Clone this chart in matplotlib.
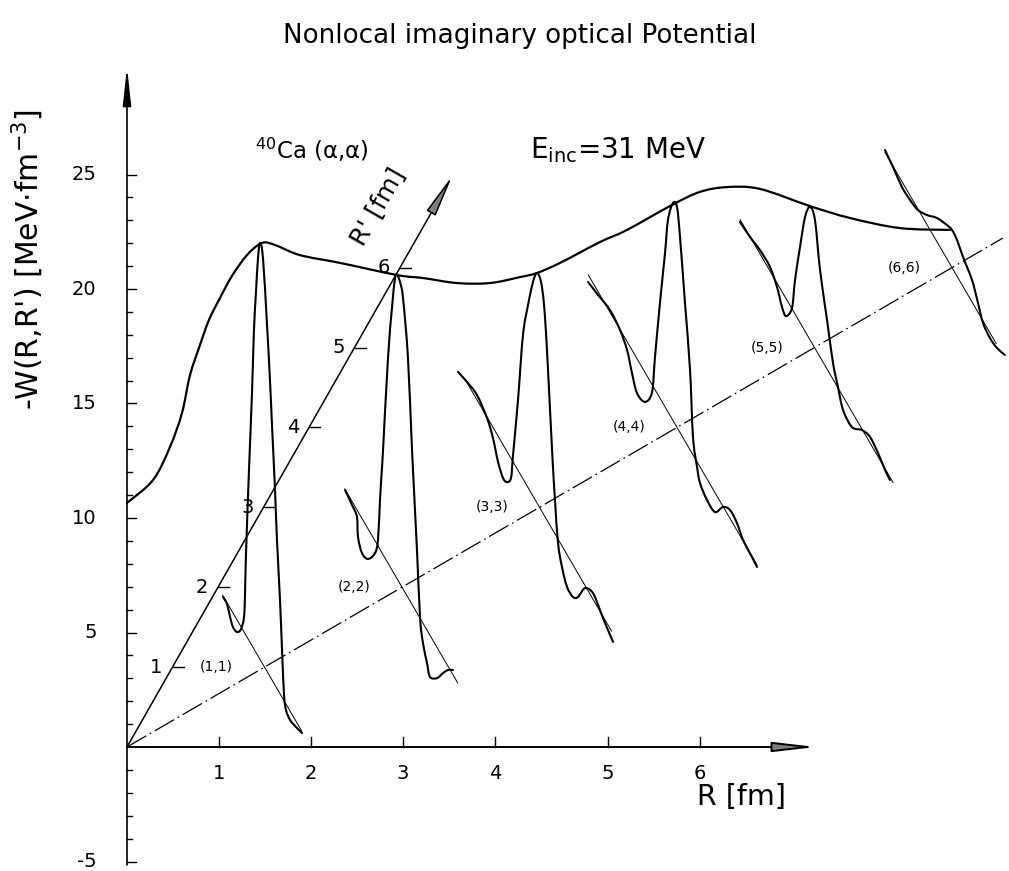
import matplotlib.pyplot as plt
import numpy as np
from matplotlib.path import Path
from matplotlib.patches import PathPatch

plt.rcParams['font.family'] = ['DejaVu Sans']
plt.rcParams['lines.scale_dashes'] = False

# diagonal envelope W(R,R): projected R [fm], W [MeV fm^-3]
env_x = [0.0, 0.283, 0.467, 0.598, 0.685, 0.793, 0.891, 1.011, 1.141, 1.304, 1.467,
         1.609, 1.880, 2.315, 2.935, 3.217, 3.587, 3.946, 4.272, 4.457, 4.707, 5.141,
         5.435, 5.924, 6.228, 6.522, 6.880, 7.424, 7.859, 8.402, 8.946]
env_y = [10.66, 11.66, 13.10, 14.59, 16.24, 17.55, 18.65, 19.61, 20.57, 21.48, 22.01,
         21.92, 21.48, 21.14, 20.61, 20.48, 20.26, 20.26, 20.52, 20.70, 21.14, 22.05,
         22.58, 23.67, 24.24, 24.45, 24.37, 23.62, 23.10, 22.66, 22.58]

# cuts through (n,n)
cut1_x = [1.043, 1.087, 1.120, 1.152, 1.196, 1.239, 1.272, 1.283, 1.293, 1.326, 1.359,
          1.380, 1.402, 1.424, 1.446, 1.478, 1.522, 1.554, 1.576, 1.609, 1.630, 1.663,
          1.685, 1.707, 1.728, 1.772, 1.826, 1.902]
cut1_y = [6.55, 6.24, 5.68, 5.24, 5.02, 5.15, 5.68, 6.72, 8.38, 12.10, 15.50, 18.21,
          19.87, 21.35, 22.01, 21.35, 18.43, 16.03, 14.06, 11.22, 9.04, 6.42, 4.24,
          2.27, 1.62, 1.18, 0.92, 0.61]

cut2_x = [2.370, 2.457, 2.500, 2.511, 2.554, 2.620, 2.696, 2.728, 2.750, 2.772, 2.783,
          2.837, 2.880, 2.913, 2.935, 2.967, 3.000, 3.054, 3.098, 3.152, 3.185, 3.217,
          3.261, 3.293, 3.370, 3.435, 3.489, 3.543]
cut2_y = [11.22, 10.48, 10.04, 9.17, 8.47, 8.21, 8.47, 9.04, 10.79, 12.23, 12.97,
          16.99, 19.17, 20.48, 20.61, 20.31, 19.61, 16.99, 12.97, 8.60, 5.68, 4.54,
          3.67, 3.06, 3.01, 3.23, 3.36, 3.36]

cut3_x = [3.598, 3.696, 3.804, 3.913, 3.978, 4.033, 4.087, 4.130, 4.174, 4.196, 4.250,
          4.304, 4.359, 4.413, 4.457, 4.500, 4.533, 4.565, 4.620, 4.652, 4.685, 4.728,
          4.783, 4.848, 4.902, 4.978, 5.065, 5.141, 5.196, 5.283]
cut3_y = [16.38, 15.94, 15.37, 14.37, 13.49, 12.45, 11.75, 11.57, 11.75, 12.75, 15.15,
          17.99, 19.30, 20.31, 20.70, 20.31, 19.30, 17.34, 12.97, 10.79, 8.91, 7.86,
          6.99, 6.55, 6.55, 6.94, 6.72, 5.98, 5.41, 4.59]

cut4_x = [5.011, 5.120, 5.250, 5.359, 5.435, 5.489, 5.543, 5.630, 5.707, 5.739, 5.793,
          5.848, 5.880, 5.935, 5.978, 6.011, 6.065, 6.120, 6.152, 6.196, 6.228, 6.304,
          6.391, 6.478, 6.554, 6.630, 6.696, 6.793, 6.848]
cut4_y = [20.31, 19.74, 19.08, 18.21, 17.34, 16.33, 15.46, 15.07, 15.50, 17.03, 19.39,
          21.57, 23.01, 23.76, 23.58, 22.27, 19.39, 16.46, 13.54, 12.23, 11.53, 10.79,
          10.26, 10.48, 10.35, 9.78, 9.04, 8.30, 7.86]

cut5_x = [6.663, 6.772, 6.880, 6.989, 7.065, 7.120, 7.163, 7.228, 7.261, 7.315, 7.370,
          7.424, 7.478, 7.533, 7.609, 7.674, 7.728, 7.783, 7.880, 7.989, 8.076, 8.163,
          8.239, 8.293]
cut5_y = [22.93, 22.27, 21.70, 20.96, 20.09, 19.21, 18.82, 19.17, 20.39, 21.83, 23.14,
          23.58, 23.01, 20.83, 18.65, 16.77, 15.72, 14.72, 13.97, 13.84, 13.54, 12.84,
          12.10, 11.66]

cut6_x = [8.239, 8.326, 8.424, 8.511, 8.598, 8.696, 8.804, 8.913, 8.967, 9.022, 9.087,
          9.185, 9.250, 9.304, 9.380, 9.457, 9.543]
cut6_y = [26.07, 25.33, 24.45, 23.89, 23.45, 23.23, 23.10, 22.79, 22.58, 22.14, 21.40,
          20.39, 19.39, 18.52, 17.86, 17.42, 17.12]

cuts = [(cut1_x, cut1_y), (cut2_x, cut2_y), (cut3_x, cut3_y),
        (cut4_x, cut4_y), (cut5_x, cut5_y), (cut6_x, cut6_y)]
cut_points = [1, 2, 3, 4, 5, 6]
# how far each thin base line runs along its cut (R-n = n-R')
cut_span = [(-0.9, 0.8), (-1.23, 1.2), (-1.56, 1.55), (-1.91, 1.72), (-1.6, 1.69), (-1.44, 0.95)]

R_ticks = [1, 2, 3, 4, 5.23, 6.23]
R_labels = ['1', '2', '3', '4', '5', '6']
Rp_ticks = [1, 2, 3, 4, 5, 6]
W_major = [25, 20, 15, 10, 5, -5]
W_minor = list(range(-5, 26))

# R' axis direction in plot units per fm
rp_dir = (0.4946, 3.489)


def proj(r, rp):
    r = np.asarray(r, dtype=float)
    rp = np.asarray(rp, dtype=float)
    return r + rp * rp_dir[0], rp * rp_dir[1]


def smooth_line(ax, xs, ys, **kw):
    # Catmull-Rom through the read points, drawn as cubic Bezier segments
    p = np.column_stack([xs, ys])
    q = np.vstack([p[0], p, p[-1]])
    verts = [p[0]]
    codes = [Path.MOVETO]
    for i in range(len(p) - 1):
        c1 = q[i + 1] + (q[i + 2] - q[i]) / 6
        c2 = q[i + 2] - (q[i + 3] - q[i + 1]) / 6
        verts += [c1, c2, q[i + 2]]
        codes += [Path.CURVE4] * 3
    ax.add_patch(PathPatch(Path(verts, codes), fill=False, capstyle='round',
                           joinstyle='round', **kw))


fig = plt.figure(figsize=(10.09, 8.71), dpi=100)
ax = fig.add_axes([0, 0, 1, 1])
ax.set_xlim(-127 / 92, 882 / 92)
ax.set_ylim(-124 / 22.9, 747 / 22.9)
ax.axis('off')

# axes
ax.annotate('', xy=(0, 29.7), xytext=(0, -5.15),
            arrowprops=dict(arrowstyle='-|>,head_length=2.3,head_width=0.25', lw=1.2,
                            fc='k', ec='k', mutation_scale=10, shrinkA=0, shrinkB=0))
ax.annotate('', xy=(7.49, 0), xytext=(0, 0),
            arrowprops=dict(arrowstyle='-|>,head_length=2.6,head_width=0.3', lw=1.4,
                            fc='0.5', ec='k', mutation_scale=10, shrinkA=0, shrinkB=0))
tip = proj(0, 7.15)
ax.annotate('', xy=tip, xytext=(0, 0),
            arrowprops=dict(arrowstyle='-|>,head_length=2.6,head_width=0.32', lw=1.1,
                            fc='0.5', ec='k', mutation_scale=10, shrinkA=0, shrinkB=0))

# W ticks
for w in W_minor:
    ln = 9 / 92 if w in W_major else 5 / 92
    if w != 0:
        ax.plot([0, ln], [w, w], color='k', lw=1.0)
for w in W_major:
    ax.text(-0.33, w, str(w), ha='right', va='center', fontsize=14)

# R ticks
for r, lab in zip(R_ticks, R_labels):
    ax.plot([r, r], [0, 10 / 22.9], color='k', lw=1.0)
    ax.text(r, -26 / 22.9, lab, ha='center', va='center', fontsize=14)

# R' ticks
for rp in Rp_ticks:
    px, py = proj(0, rp)
    ax.plot([px, px + 11 / 92], [py, py], color='k', lw=1.0)
    ax.text(px - 16 / 92, py, str(rp), ha='center', va='center', fontsize=14)

# diagonal R = R'
dx, dy = proj([0, 6.37], [0, 6.37])
ax.plot(dx, dy, color='k', lw=0.9, linestyle=(0, (16, 3, 1.2, 3)))

# thin base lines of the cuts and their labels
for n, (t0, t1) in zip(cut_points, cut_span):
    t = np.array([t0, t1])
    bx, by = proj(n + t, n - t)
    ax.plot(bx, by, color='k', lw=0.7)
    cx, cy = proj(n, n)
    ax.text(cx - 0.52, cy, f'({n},{n})', ha='center', va='center', fontsize=10)

# curves
for cx, cy in cuts:
    smooth_line(ax, cx, cy, color='k', lw=1.5)
smooth_line(ax, env_x, env_y, color='k', lw=1.6)

# text
fig.text(0.515, 1 - 36 / 871, 'Nonlocal imaginary optical Potential', ha='center',
         va='center', fontsize=18.8)
fig.text(28 / 1009, 1 - 260 / 871, "-W(R,R') [MeV$\\cdot$fm$^{-3}$]", rotation=90,
         ha='center', va='center', fontsize=21.5)
ax.text(128 / 92, (747 - 150) / 22.9, '$^{40}$Ca (α,α)', ha='left', va='center', fontsize=16.5)
ax.text(403 / 92, (747 - 150) / 22.9, 'E$_{\\rm inc}$=31 MeV', ha='left', va='center',
        fontsize=20)
ax.text(570 / 92, (747 - 797) / 22.9, 'R [fm]', ha='left', va='center', fontsize=20.5)
ax.text(251 / 92, (747 - 207) / 22.9, "R' [fm]", ha='center', va='center', fontsize=18,
        rotation=60.3, rotation_mode='anchor')

fig.savefig('out.png', dpi=100)
